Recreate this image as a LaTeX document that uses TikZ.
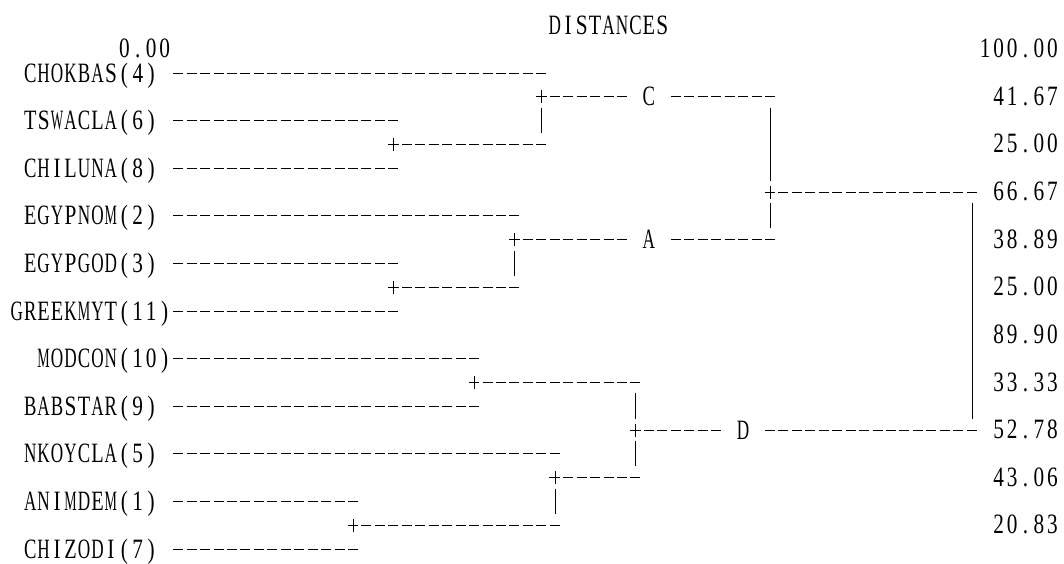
\documentclass[tikz,border=0pt]{standalone}
\usepackage{fontspec}
\newfontfamily\simfont[FakeStretch=0.76]{Liberation Serif}
\ExplSyntaxOn
\box_new:N \l_sim_box
\NewDocumentCommand\mono{m}{ \tl_map_inline:nn {#1} {
  \hbox_set:Nn \l_sim_box {##1}
  \dim_compare:nNnT { \box_wd:N \l_sim_box } > { 12.4pt }
    { \box_scale:Nnn \l_sim_box { \fp_eval:n { 12.4 / \dim_to_fp:n { \box_wd:N \l_sim_box } } } { 1 } }
  \hbox_to_wd:nn {13.45pt} { \hss \box_use:N \l_sim_box \hss } } }
\ExplSyntaxOff
\newcommand\Lx[1]{(-3.4+13.45*(#1))}
\newcommand\Yy[1]{(25+23.8*(#1))}
\newcommand\Ys[1]{(round(25+23.8*(#1))+0.5)}
\newcommand\Xs[1]{(round(-3.4+13.45*(#1)+6.725)+0.5)}
\newcommand\lbl[4]{\node[txt,anchor=base west] (#1) at ({\Lx{#2}},{\Yy{#3}+9.5}) {\mono{#4}};}
\newcommand\rnum[3]{\node[txt,anchor=base east] (#1) at ({\Lx{79}},{\Yy{#2}+9}) {\mono{#3}};}
\newcommand\drun[3]{\draw[dashline] ({\Lx{#2}+1.7},{\Ys{#1}}) -- ({\Lx{#3+1}-1.75},{\Ys{#1}});}
\newcommand\plusg[2]{\draw[glyph] ({\Lx{#2}+1.3},{\Ys{#1}}) -- ({\Lx{#2}+12.1},{\Ys{#1}}) ({\Xs{#2}},{\Ys{#1}-6.5}) -- ({\Xs{#2}},{\Ys{#1}+6.5});}
\newcommand\vbarg[3]{\draw[glyph] ({\Xs{#1}},{\Yy{#2}-12.5}) -- ({\Xs{#1}},{\Yy{#3}+13});}
\begin{document}
\begin{tikzpicture}[x=1pt,y=-1pt,
  txt/.style={inner sep=0pt, outer sep=0pt, font=\simfont\fontsize{28}{28}\selectfont, text=black},
  dashline/.style={line width=1pt, dash pattern=on 10pt off 3.45pt, black},
  glyph/.style={line width=1pt, black}]
\useasboundingbox (0,0) rectangle (1064,564);
% headings
\node[txt,anchor=base west] (dist) at ({\Lx{41}},{\Yy{0}+9.5}) {\mono{DISTANCES}};
\node[txt,anchor=base west] (zero) at ({\Lx{9}},{\Yy{1}+9}) {\mono{0.00}};
% labels
\lbl{chokbas}{2}{2}{CHOKBAS(4)}
\lbl{tswacla}{2}{4}{TSWACLA(6)}
\lbl{chiluna}{2}{6}{CHILUNA(8)}
\lbl{egypnom}{2}{8}{EGYPNOM(2)}
\lbl{egypgod}{2}{10}{EGYPGOD(3)}
\lbl{greekmyt}{1}{12}{GREEKMYT(11)}
\lbl{modcon}{3}{14}{MODCON(10)}
\lbl{babstar}{2}{16}{BABSTAR(9)}
\lbl{nkoycla}{2}{18}{NKOYCLA(5)}
\lbl{animdem}{2}{20}{ANIMDEM(1)}
\lbl{chizodi}{2}{22}{CHIZODI(7)}
% right numbers
\rnum{r1}{1}{100.00}
\rnum{r3}{3}{41.67}
\rnum{r5}{5}{25.00}
\rnum{r7}{7}{66.67}
\rnum{r9}{9}{38.89}
\rnum{r11}{11}{25.00}
\rnum{r13}{13}{89.90}
\rnum{r15}{15}{33.33}
\rnum{r17}{17}{52.78}
\rnum{r19}{19}{43.06}
\rnum{r21}{21}{20.83}
% cluster letters
\node[txt,anchor=base west] (cC) at ({\Lx{48}},{\Yy{3}+9.5}) {\mono{C}};
\node[txt,anchor=base west] (cA) at ({\Lx{48}},{\Yy{9}+9.5}) {\mono{A}};
\node[txt,anchor=base west] (cD) at ({\Lx{55}},{\Yy{17}+9.5}) {\mono{D}};
% leaf dash runs
\drun{2}{13}{40}
\drun{4}{13}{29}
\drun{6}{13}{29}
\drun{8}{13}{38}
\drun{10}{13}{29}
\drun{12}{13}{29}
\drun{14}{13}{35}
\drun{16}{13}{35}
\drun{18}{13}{41}
\drun{20}{13}{26}
\drun{22}{13}{26}
% cluster C
\plusg{5}{29}\drun{5}{30}{40}
\vbarg{40}{4}{4}
\plusg{3}{40}\drun{3}{41}{46}\drun{3}{50}{57}
\vbarg{57}{4}{6}
\plusg{7}{57}\drun{7}{58}{72}
\vbarg{57}{8}{8}
% cluster A
\plusg{11}{29}\drun{11}{30}{38}
\vbarg{38}{10}{10}
\plusg{9}{38}\drun{9}{39}{46}\drun{9}{50}{57}
% long vertical
\vbarg{72}{8}{16}
% cluster D
\plusg{15}{35}\drun{15}{36}{47}
\vbarg{47}{16}{16}
\plusg{17}{47}\drun{17}{48}{53}\drun{17}{57}{72}
\vbarg{47}{18}{18}
\plusg{19}{41}\drun{19}{42}{47}
\vbarg{41}{20}{20}
\plusg{21}{26}\drun{21}{27}{41}
\end{tikzpicture}
\end{document}
